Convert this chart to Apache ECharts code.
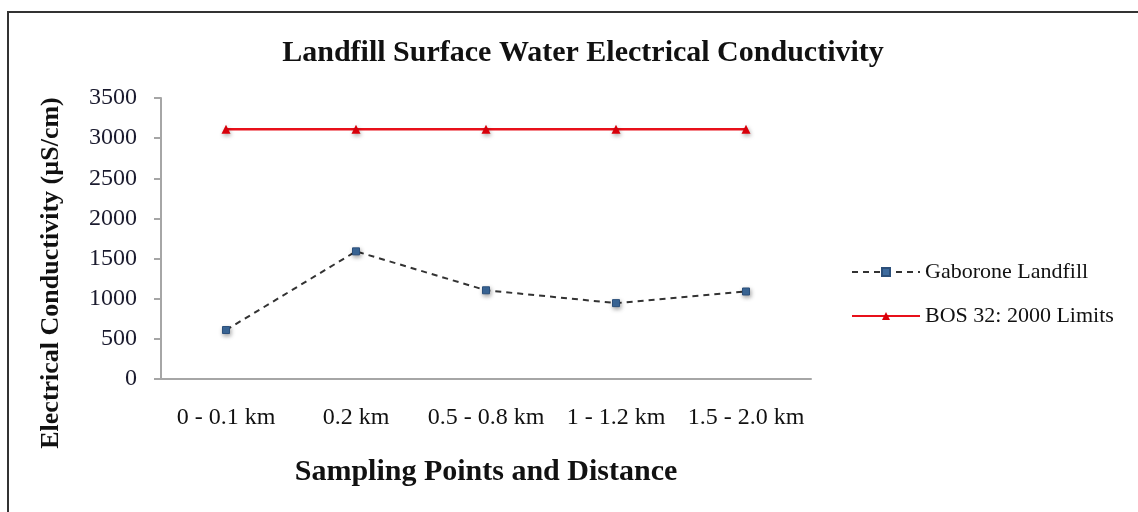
<!DOCTYPE html>
<html>
<head>
<meta charset="utf-8">
<script src="https://cdn.jsdelivr.net/npm/echarts@6/dist/echarts.min.js"></script>
<style>
  html, body { margin: 0; padding: 0; background: #fff; }
  #chart { width: 1138px; height: 512px; }
</style>
</head>
<body>
<div id="chart"></div>
<script>
// sampling points along the distance from the landfill
var categories = ['0 - 0.1 km', '0.2 km', '0.5 - 0.8 km', '1 - 1.2 km', '1.5 - 2.0 km']
var gaboroneValues = [610, 1590, 1105, 945, 1090]
var bosLimitValues = [3110, 3110, 3110, 3110, 3110]
var yTicks = [0, 500, 1000, 1500, 2000, 2500, 3000, 3500]

var serif = '"Liberation Serif", "DejaVu Serif", serif'

var chart = echarts.init(document.getElementById('chart'))
chart.setOption({
  animation: false,
  backgroundColor: '#fff',
  title: {
    text: 'Landfill Surface Water Electrical Conductivity',
    left: 578,
    top: 33,
    textAlign: 'center',
    textStyle: { fontFamily: serif, fontWeight: 'bold', fontSize: 30, color: '#111' }
  },
  grid: { left: 161, right: 327, top: 98, bottom: 133 },
  legend: {
    orient: 'vertical',
    left: 846,
    top: 256,
    itemGap: 22,
    itemWidth: 68,
    itemHeight: 10,
    textStyle: { fontFamily: serif, fontSize: 22, color: '#111' },
    data: ['Gaborone Landfill', 'BOS 32: 2000 Limits']
  },
  xAxis: {
    type: 'category',
    data: categories,
    name: 'Sampling Points and Distance',
    nameLocation: 'middle',
    nameGap: 78,
    nameTextStyle: { fontFamily: serif, fontWeight: 'bold', fontSize: 30, color: '#111' },
    axisLine: { lineStyle: { color: '#a6a6a6', width: 2 } },
    axisTick: { show: false },
    axisLabel: { fontFamily: serif, fontSize: 24, color: '#111', margin: 27, interval: 0 }
  },
  yAxis: {
    type: 'value',
    min: yTicks[0],
    max: yTicks[yTicks.length - 1],
    interval: yTicks[1] - yTicks[0],
    axisLine: { show: true, lineStyle: { color: '#a6a6a6', width: 2 } },
    axisTick: { show: true, length: 7, lineStyle: { color: '#a6a6a6', width: 2 } },
    splitLine: { show: false },
    axisLabel: {
      fontFamily: serif,
      fontSize: 24,
      color: '#1a1a2e',
      margin: 24,
      formatter: function(v) { return String(v) }
    }
  },
  series: [
    {
      name: 'Gaborone Landfill',
      type: 'line',
      data: gaboroneValues,
      symbol: 'rect',
      symbolSize: 7,
      lineStyle: { color: '#333', width: 2, type: [6, 5] },
      itemStyle: { color: '#3d6b9e', borderColor: '#2b4f7a', borderWidth: 1, shadowBlur: 4, shadowColor: 'rgba(0,0,0,0.35)', shadowOffsetX: 1, shadowOffsetY: 2 }
    },
    {
      name: 'BOS 32: 2000 Limits',
      type: 'line',
      data: bosLimitValues,
      symbol: 'triangle',
      symbolSize: 9,
      lineStyle: { color: '#e8101a', width: 2.5 },
      itemStyle: { color: '#d8000a', shadowBlur: 4, shadowColor: 'rgba(0,0,0,0.35)', shadowOffsetX: 1, shadowOffsetY: 2 }
    }
  ],
  graphic: [
    {
      type: 'rect',
      shape: { x: 8, y: 12, width: 1140, height: 510 },
      style: { fill: 'none', stroke: '#333', lineWidth: 2 },
      silent: true
    },
    {
      type: 'text',
      x: 51,
      y: 273,
      rotation: Math.PI / 2,
      style: {
        text: 'Electrical Conductivity (µS/cm)',
        fontFamily: serif,
        fontWeight: 'bold',
        fontSize: 26,
        fill: '#111',
        align: 'center',
        verticalAlign: 'middle'
      }
    }
  ]
})
</script>
</body>
</html>
